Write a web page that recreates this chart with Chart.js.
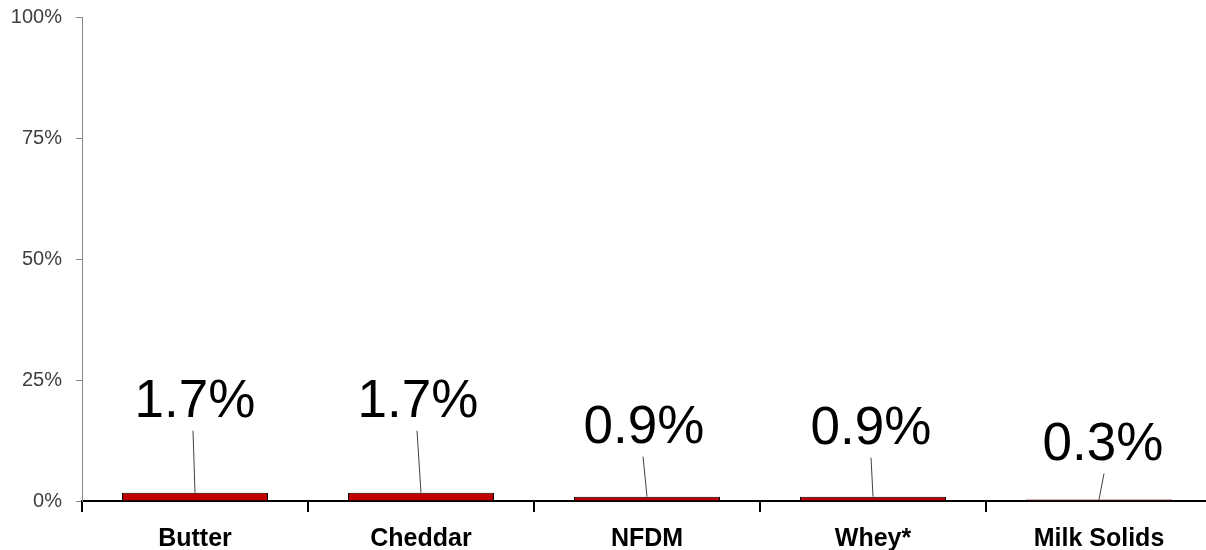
<!DOCTYPE html>
<html>
<head>
<meta charset="utf-8">
<script src="https://cdn.jsdelivr.net/npm/chart.js@4.4.0/dist/chart.umd.min.js"></script>
<style>
  html, body { margin: 0; padding: 0; background: #fff; overflow: hidden; }
  #wrap { width: 1224px; height: 550px; }
</style>
</head>
<body>
<div id="wrap"><canvas id="chart" width="1224" height="550"></canvas></div>
<script>
const categories = ["Butter", "Cheddar", "NFDM", "Whey*", "Milk Solids"];
const shareValues = [1.7, 1.7, 0.9, 0.9, 0.3];
const valueLabels = ["1.7%", "1.7%", "0.9%", "0.9%", "0.3%"];
const yTicks = [0, 25, 50, 75, 100];

// hand placed labels like in the original, offsets in px from bar top
const labelSpots = [
  { dx: 0, rise: 76, leadDx: -2 },
  { dx: -3, rise: 76, leadDx: -4 },
  { dx: -3, rise: 54, leadDx: -4 },
  { dx: -2, rise: 53, leadDx: -2 },
  { dx: 4, rise: 40, leadDx: 5 }
];

const leaderLabels = {
  id: "leaderLabels",
  afterDatasetsDraw(chart) {
    const ctx = chart.ctx;
    const meta = chart.getDatasetMeta(0);
    ctx.save();
    meta.data.forEach((bar, i) => {
      const spot = labelSpots[i];
      const baseY = bar.y - spot.rise;
      ctx.strokeStyle = "#404040";
      ctx.lineWidth = 1;
      ctx.beginPath();
      ctx.moveTo(bar.x + spot.leadDx, baseY + 14);
      ctx.lineTo(bar.x, bar.y);
      ctx.stroke();
      ctx.fillStyle = "#000";
      ctx.font = "53px 'Liberation Sans', Arial, sans-serif";
      ctx.textAlign = "center";
      ctx.textBaseline = "alphabetic";
      ctx.fillText(valueLabels[i], bar.x + spot.dx, baseY);
    });
    ctx.restore();
  }
};

new Chart(document.getElementById("chart"), {
  type: "bar",
  data: {
    labels: categories,
    datasets: [{
      data: shareValues,
      backgroundColor: "#C00000",
      borderColor: "#000",
      borderWidth: 1,
      barPercentage: 0.646,
      categoryPercentage: 1
    }]
  },
  options: {
    responsive: false,
    devicePixelRatio: 1,
    animation: false,
    layout: { padding: { top: 17, right: 12, left: 0, bottom: 0 } },
    plugins: {
      legend: { display: false },
      tooltip: { enabled: false }
    },
    scales: {
      x: {
        afterFit(scale) { scale.height = 49; },
        grid: {
          display: true,
          drawOnChartArea: false,
          offset: true,
          tickLength: 11,
          color: "#000",
          lineWidth: 2
        },
        border: { color: "#000", width: 2 },
        ticks: {
          color: "#000",
          padding: 12,
          font: { family: "'Liberation Sans', Arial, sans-serif", size: 25, weight: "bold" }
        }
      },
      y: {
        min: 0,
        max: 100,
        afterFit(scale) {
          scale.width = 82;
          scale.paddingTop = 0;
          scale.paddingBottom = 0;
        },
        afterBuildTicks(scale) { scale.ticks = yTicks.map(v => ({ value: v })); },
        grid: {
          display: true,
          drawOnChartArea: false,
          tickLength: 6,
          color: "#888"
        },
        border: { color: "#888", width: 1 },
        ticks: {
          color: "#404040",
          padding: 14,
          font: { family: "'Liberation Sans', Arial, sans-serif", size: 20 },
          callback: v => v + "%"
        }
      }
    }
  },
  plugins: [leaderLabels]
});
</script>
</body>
</html>
